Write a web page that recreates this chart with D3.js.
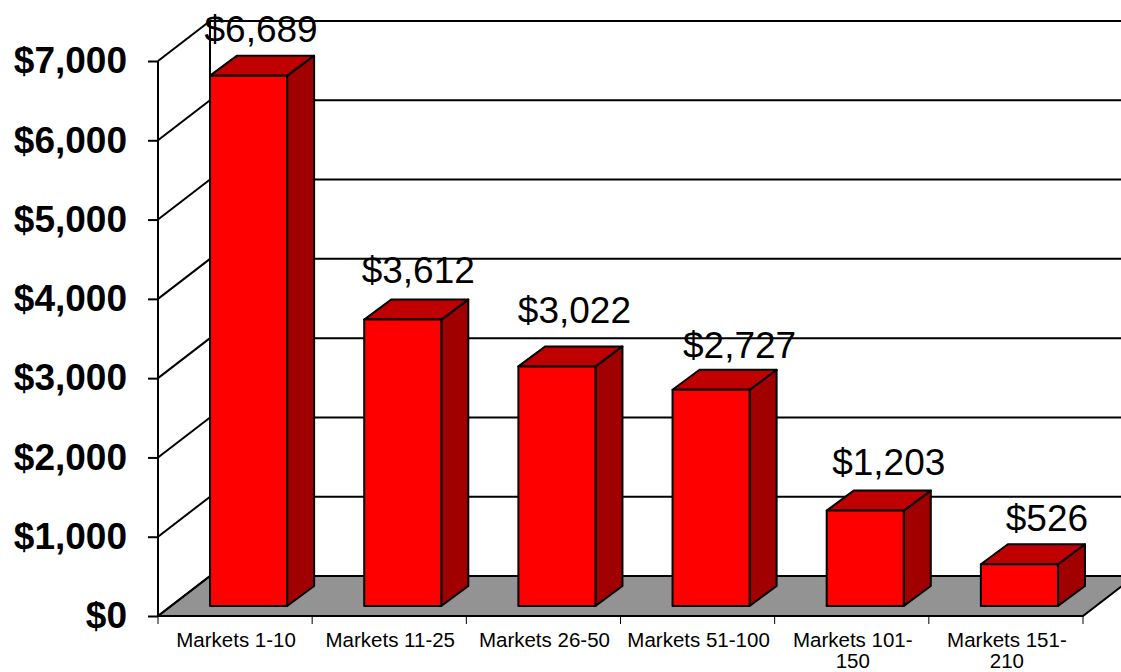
<!DOCTYPE html>
<html>
<head>
<meta charset="utf-8">
<script src="https://cdnjs.cloudflare.com/ajax/libs/d3/7.8.5/d3.min.js"></script>
<style>
html, body { margin: 0; padding: 0; background: #fff; }
svg { display: block; }
text { font-family: "Liberation Sans", Arial, sans-serif; fill: #000; }
</style>
</head>
<body>
<div id="chart"></div>
<script>
var categories = ["Markets 1-10", "Markets 11-25", "Markets 26-50", "Markets 51-100", "Markets 101-150", "Markets 151-210"];
var cat_lines = [["Markets 1-10"], ["Markets 11-25"], ["Markets 26-50"], ["Markets 51-100"], ["Markets 101-", "150"], ["Markets 151-", "210"]];
var values = [6689, 3612, 3022, 2727, 1203, 526];
var y_ticks = [0, 1000, 2000, 3000, 4000, 5000, 6000, 7000];

// data labels sit by hand in the original, these are pixel nudges from the bar top
var label_dx = [-1, 2, 4, 15, 10, 14];
var label_dy = [-34, -37, -43, -32, -36, -33];

var width = 1121, height = 672;
var x0 = 158, x1 = 1083, y0 = 616, y1 = 61;
var wall_dx = 52, wall_dy = 40;   // floor depth
var bar_dx = 27, bar_dy = 20;     // bar depth
var front_dx = 13.5, front_dy = 10; // bar front set back from the axis

var x = d3.scaleBand().domain(categories).range([x0, x1]).paddingInner(0.5).paddingOuter(0.25);
var x_band = d3.scaleBand().domain(categories).range([x0, x1]);
var y = d3.scaleLinear().domain([0, 7000]).range([y0, y1]);
var money = d3.format("$,");

var svg = d3.select("#chart").append("svg").attr("width", width).attr("height", height);

// floor
svg.append("polygon")
   .attr("points", [[x0, y0], [x0 + wall_dx, y0 - wall_dy], [x1 + wall_dx, y0 - wall_dy], [x1, y0]].join(" "))
   .attr("fill", "#939393").attr("stroke", "#000").attr("stroke-width", 2);

// back wall grid and the slanted lines on the side wall
var grid = svg.append("g").attr("stroke", "#000").attr("stroke-width", 2);
grid.selectAll("line.back").data(y_ticks).enter().append("line").attr("class", "back")
   .attr("x1", x0 + wall_dx).attr("x2", width)
   .attr("y1", function(d) { return y(d) - wall_dy; })
   .attr("y2", function(d) { return y(d) - wall_dy; });
grid.selectAll("line.side").data(y_ticks).enter().append("line").attr("class", "side")
   .attr("x1", x0).attr("x2", x0 + wall_dx)
   .attr("y1", function(d) { return y(d); })
   .attr("y2", function(d) { return y(d) - wall_dy; });
grid.append("line").attr("x1", x0 + wall_dx).attr("x2", x0 + wall_dx).attr("y1", y(7000) - wall_dy).attr("y2", y(0) - wall_dy);

// axes
var axis_y = svg.append("g").attr("transform", "translate(" + x0 + ",0)")
   .call(d3.axisLeft(y).tickValues(y_ticks).tickSize(10).tickPadding(21).tickFormat(money));
axis_y.selectAll("text").attr("font-size", 37).attr("font-weight", "bold");

var axis_x = svg.append("g").attr("transform", "translate(0," + y0 + ")")
   .call(d3.axisBottom(x_band).tickSize(0).tickFormat(""));
axis_y.selectAll("path, line").attr("stroke", "#000").attr("stroke-width", 2);
axis_x.selectAll("path, line").attr("stroke", "#000").attr("stroke-width", 2);
axis_y.select("path").attr("d", "M0," + y0 + "V" + y1);
axis_x.select("path").attr("d", "M" + x0 + ",0H" + x1);

svg.append("g").attr("stroke", "#000").attr("stroke-width", 1)
   .selectAll("line").data(categories.concat(["end"])).enter().append("line")
   .attr("x1", function(d, i) { return x0 + i * x_band.step(); })
   .attr("x2", function(d, i) { return x0 + i * x_band.step(); })
   .attr("y1", y0).attr("y2", y0 + 8);

var x_labels = svg.append("g").selectAll("text").data(categories).enter().append("text")
   .attr("text-anchor", "middle").attr("font-size", 20.5)
   .attr("transform", function(d) { return "translate(" + (x_band(d) + x_band.bandwidth() / 2 + 1) + ",647)"; });
x_labels.selectAll("tspan").data(function(d, i) { return cat_lines[i]; }).enter().append("tspan")
   .attr("x", 0).attr("y", function(d, i) { return i * 21; }).text(function(d) { return d; });

// bars
var bars = svg.append("g").selectAll("g").data(values).enter().append("g")
   .attr("stroke", "#000").attr("stroke-width", 2).attr("stroke-linejoin", "round");

function left(i) { return x(categories[i]) + front_dx; }
function right(i) { return left(i) + x.bandwidth(); }
var base = y0 - front_dy;
function top_y(d) { return base - (y0 - y(d)); }

bars.append("polygon").attr("fill", "#a00000")
   .attr("points", function(d, i) {
      return [[right(i), base], [right(i) + bar_dx, base - bar_dy], [right(i) + bar_dx, top_y(d) - bar_dy], [right(i), top_y(d)]].join(" ");
   });
bars.append("polygon").attr("fill", "#c00000")
   .attr("points", function(d, i) {
      return [[left(i), top_y(d)], [left(i) + bar_dx, top_y(d) - bar_dy], [right(i) + bar_dx, top_y(d) - bar_dy], [right(i), top_y(d)]].join(" ");
   });
bars.append("rect").attr("fill", "#ff0000")
   .attr("x", function(d, i) { return left(i); })
   .attr("y", function(d) { return top_y(d); })
   .attr("width", x.bandwidth())
   .attr("height", function(d) { return base - top_y(d); });

// value labels
svg.append("g").selectAll("text").data(values).enter().append("text")
   .attr("text-anchor", "middle").attr("font-size", 37)
   .attr("x", function(d, i) { return (left(i) + right(i)) / 2 + bar_dx / 2 + label_dx[i]; })
   .attr("y", function(d, i) { return top_y(d) + label_dy[i]; })
   .text(function(d) { return money(d); });
</script>
</body>
</html>
